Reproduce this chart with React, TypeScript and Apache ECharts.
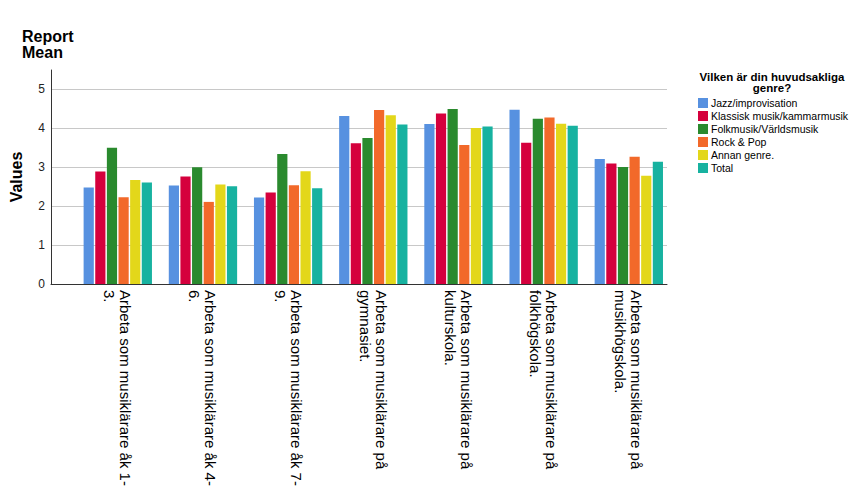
import React, { useEffect, useRef } from "react";
import * as echarts from "echarts";

const categories: string[] = [
  "Arbeta som musiklärare åk 1-\n3.",
  "Arbeta som musiklärare åk 4-\n6.",
  "Arbeta som musiklärare åk 7-\n9.",
  "Arbeta som musiklärare på\ngymnasiet.",
  "Arbeta som musiklärare på\nkulturskola.",
  "Arbeta som musiklärare på\nfolkhögskola.",
  "Arbeta som musiklärare på\nmusikhögskola.",
];

const seriesNames: string[] = [
  "Jazz/improvisation",
  "Klassisk musik/kammarmusik",
  "Folkmusik/Världsmusik",
  "Rock & Pop",
  "Annan genre.",
  "Total",
];

const jazz: number[] = [2.48, 2.53, 2.22, 4.32, 4.11, 4.48, 3.21];
const klassisk: number[] = [2.89, 2.76, 2.35, 3.62, 4.38, 3.63, 3.1];
const folk: number[] = [3.5, 3.0, 3.34, 3.75, 4.5, 4.25, 3.01];
const rock: number[] = [2.23, 2.11, 2.54, 4.47, 3.57, 4.28, 3.27];
const annan: number[] = [2.67, 2.56, 2.9, 4.34, 4.01, 4.12, 2.78];
const total: number[] = [2.61, 2.51, 2.46, 4.1, 4.05, 4.07, 3.14];

const seriesValues: number[][] = [jazz, klassisk, folk, rock, annan, total];
const colors: string[] = ["#5791e0", "#d5003d", "#2a8a2e", "#f2692a", "#e3d71a", "#17b2a0"];

const FONT = "'Liberation Sans', Arial, sans-serif";

export default function App() {
  const ref = useRef<HTMLDivElement>(null);
  useEffect(() => {
    if (!ref.current) return;
    const chart = echarts.init(ref.current, undefined, { renderer: "svg" });
    const option: any = {
      animation: false,
      backgroundColor: "#ffffff",
      textStyle: { fontFamily: FONT },
      title: [
        {
          text: "Report\nMean",
          left: 17,
          top: 23,
          padding: 5,
          textStyle: { fontSize: 16, fontWeight: "bold", color: "#000", lineHeight: 16, fontFamily: FONT },
        },
        {
          text: "Vilken är din huvudsakliga\ngenre?",
          left: 772,
          top: 71,
          padding: 0,
          textAlign: "center",
          textStyle: { fontSize: 11.5, fontWeight: "bold", color: "#000", lineHeight: 11, fontFamily: FONT },
        },
      ],
      legend: {
        data: seriesNames,
        orient: "vertical",
        left: 693,
        top: 92,
        itemWidth: 10,
        itemHeight: 10,
        itemGap: 1,
        icon: "rect",
        textStyle: { fontSize: 10.5, lineHeight: 12, color: "#000", fontFamily: FONT, padding: [0, 0, 0, -2] },
      },
      grid: [
        { left: 51, right: 184, top: 70, bottom: 217 },
        { left: 75.2, right: 179.6, top: 70, bottom: 217 },
      ],
      xAxis: [
        {
          gridIndex: 0,
          type: "category",
          data: [""],
          axisLine: { show: true, lineStyle: { color: "#333", width: 1 } },
          axisTick: { show: false },
          axisLabel: { show: false },
        },
        {
          gridIndex: 1,
          type: "category",
          data: categories,
          axisLine: { show: false },
          axisTick: { show: false },
          axisLabel: {
            rotate: -90,
            margin: 6,
            fontSize: 15,
            lineHeight: 16,
            color: "#000",
            fontFamily: FONT,
            interval: 0,
          },
        },
      ],
      yAxis: [
        {
          gridIndex: 0,
          type: "value",
          min: 0,
          max: 5.5,
          interval: 1,
          name: "Values",
          nameLocation: "middle",
          nameGap: 27,
          nameTextStyle: { fontSize: 16, fontWeight: "bold", color: "#000", fontFamily: FONT },
          axisLine: { show: true, lineStyle: { color: "#333", width: 1 } },
          axisTick: { show: false },
          axisLabel: { showMaxLabel: false, fontSize: 12, color: "#222", margin: 6, fontFamily: FONT },
          splitLine: { show: true, showMaxLine: false, lineStyle: { color: "#c8c8c8", width: 1 } },
        },
        {
          gridIndex: 1,
          type: "value",
          min: 0,
          max: 5.5,
          interval: 1,
          show: false,
          splitLine: { show: false },
        },
      ],
      series: seriesNames.map((name, i) => ({
        name,
        type: "bar",
        xAxisIndex: 1,
        yAxisIndex: 1,
        data: seriesValues[i],
        barWidth: 10.2,
        barGap: "14%",
        itemStyle: { color: colors[i] },
      })),
    };
    chart.setOption(option);
    return () => chart.dispose();
  }, []);
  return <div ref={ref} style={{ width: 851, height: 501, position: "absolute", left: 0, top: 0 }} />;
}
